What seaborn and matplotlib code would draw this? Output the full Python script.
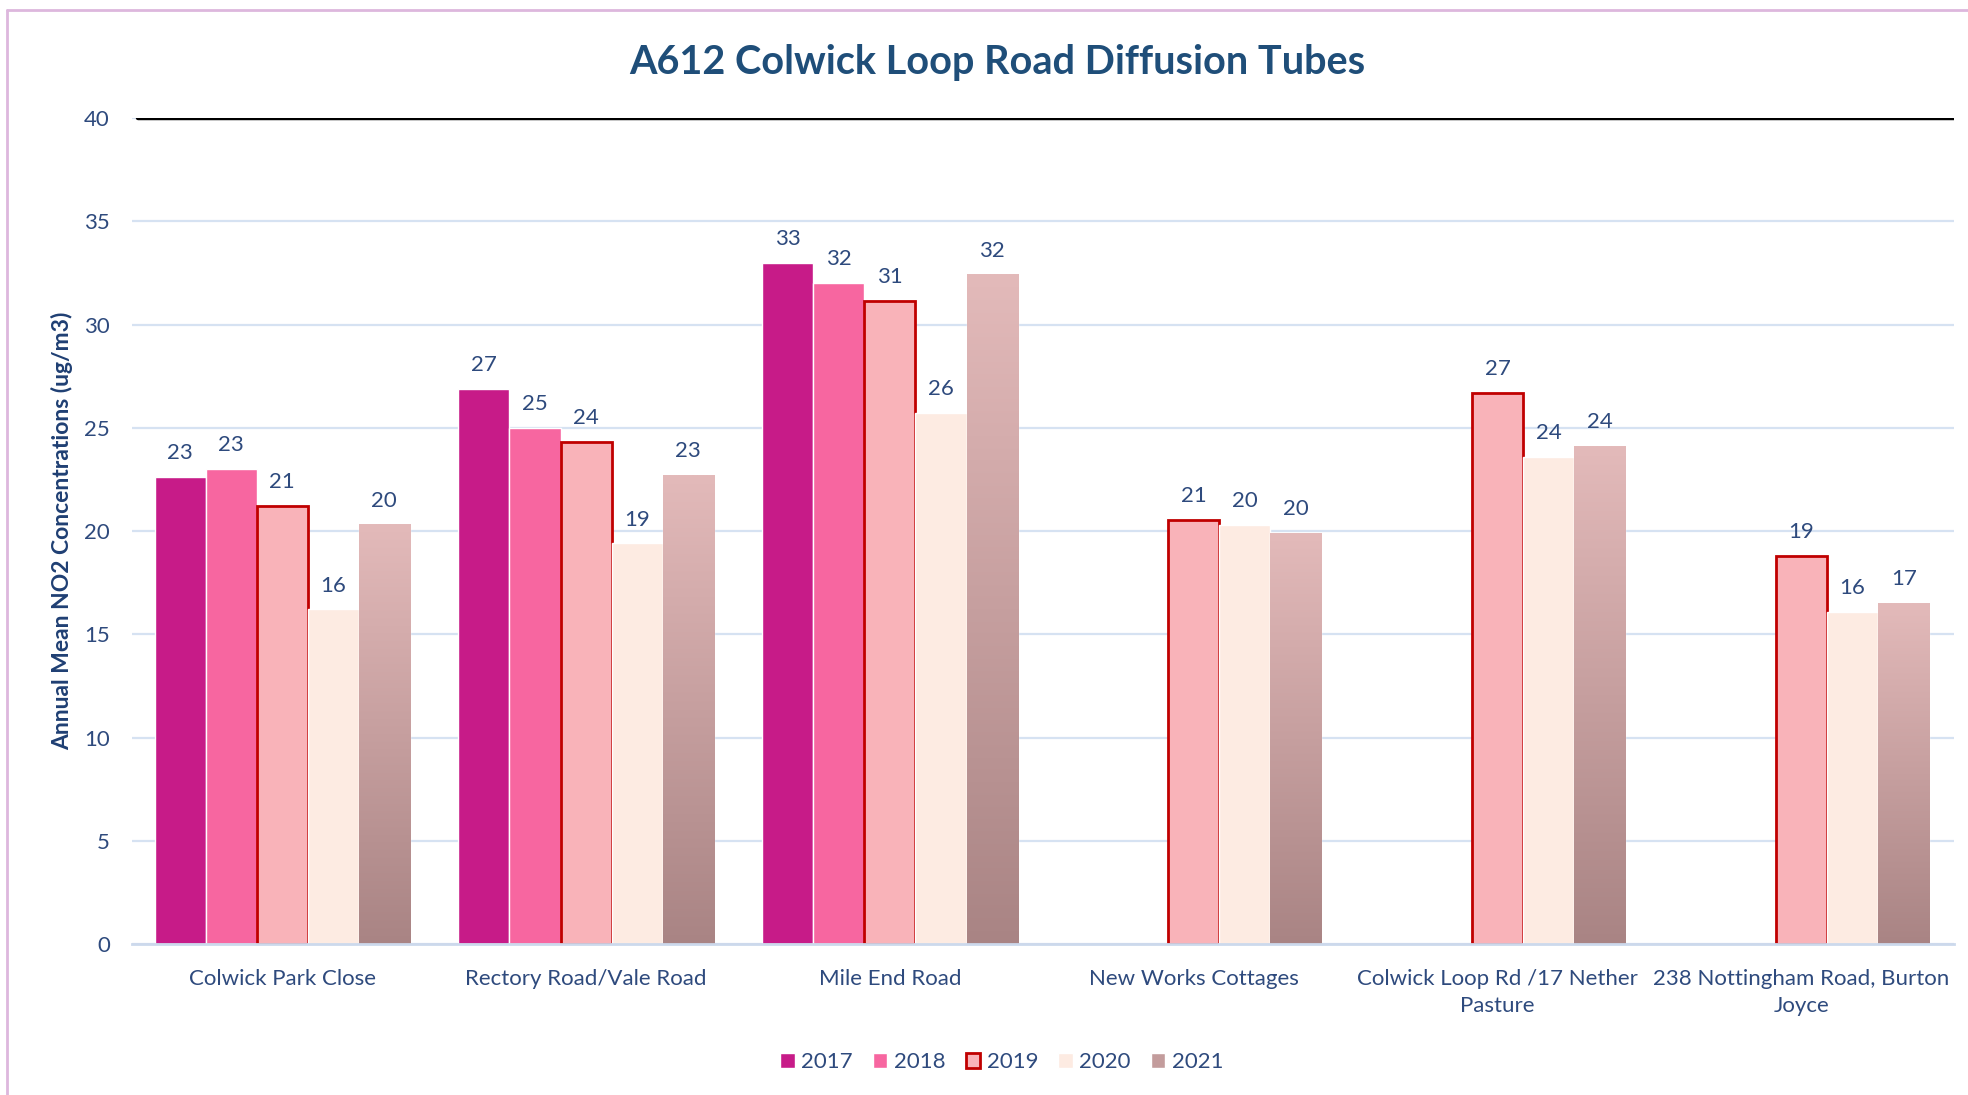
import math
import numpy as np
import pandas as pd
import seaborn as sns
import matplotlib.pyplot as plt
from matplotlib.colors import LinearSegmentedColormap
from matplotlib.lines import Line2D
from matplotlib.patches import Patch

sns.set_style('white')
plt.rcParams['font.family'] = ['Lato', 'DejaVu Sans']

sites = ['Colwick Park Close', 'Rectory Road/Vale Road', 'Mile End Road',
         'New Works Cottages', 'Colwick Loop Rd /17 Nether Pasture',
         '238 Nottingham Road, Burton Joyce']
site_labels = ['Colwick Park Close', 'Rectory Road/Vale Road', 'Mile End Road',
               'New Works Cottages', 'Colwick Loop Rd /17 Nether\nPasture',
               '238 Nottingham Road, Burton\nJoyce']
years = ['2017', '2018', '2019', '2020', '2021']
nan = np.nan
v2017 = [22.6, 26.9, 33.0, nan, nan, nan]
v2018 = [23.0, 25.0, 32.0, nan, nan, nan]
v2019 = [21.2, 24.3, 31.15, 20.55, 26.7, 18.8]
v2020 = [16.2, 19.4, 25.7, 20.3, 23.6, 16.1]
v2021 = [20.3, 22.7, 32.4, 19.9, 24.1, 16.5]
objective = 40

colors = ['#C71B88', '#F766A0', '#F9B3B9', '#FDEBE2', '#D9B0B0']
grad_top, grad_bottom = '#E3BABA', '#A98484'
text_col = '#2E4A7D'

rows = []
for y, vals in zip(years, [v2017, v2018, v2019, v2020, v2021]):
    for s, v in zip(sites, vals):
        rows.append({'site': s, 'year': y, 'value': v})
df = pd.DataFrame(rows)

fig = plt.figure(figsize=(19.68, 10.95), dpi=100)
ax = fig.add_axes([0.0671, 0.1379, 0.926, 0.7543])

sns.barplot(data=df, x='site', y='value', hue='year', order=sites,
            hue_order=years, palette=colors, saturation=1, width=0.84,
            gap=0, errorbar=None, legend=False, ax=ax)

# 2019 bars with red outline
for p in ax.containers[2]:
    p.set_edgecolor('#C00000')
    p.set_linewidth(2)

# gradient fill for 2021
cmap = LinearSegmentedColormap.from_list('g', [grad_bottom, grad_top])
grad = np.linspace(0, 1, 256).reshape(-1, 1)
for p in ax.containers[4]:
    x0, w, h = p.get_x(), p.get_width(), p.get_height()
    if np.isnan(h):
        continue
    p.set_facecolor('none')
    ax.imshow(grad, extent=[x0, x0 + w, 0, h], origin='lower', cmap=cmap,
              aspect='auto', zorder=p.get_zorder())

for c in ax.containers:
    labels = ['' if np.isnan(v) else str(int(math.floor(v + 0.5)))
              for v in c.datavalues]
    ax.bar_label(c, labels=labels, padding=10, fontsize=16, color=text_col)

ax.axhline(objective, xmin=0.003, xmax=1, color='black', lw=3.2, zorder=5)

ax.set_xlim(-0.494, 5.503)
ax.set_ylim(0, 40)
ax.set_yticks(range(0, 41, 5))
ax.yaxis.grid(True, color='#D6E2F2', lw=1.6)
ax.set_axisbelow(True)
for s in ['top', 'right', 'left']:
    ax.spines[s].set_visible(False)
ax.spines['bottom'].set_color('#CCD9EC')
ax.spines['bottom'].set_linewidth(2)
ax.set_xticks(range(len(sites)))
ax.set_xticklabels(site_labels, linespacing=1.45)
ax.tick_params(axis='y', length=0, pad=16, labelsize=16, labelcolor=text_col)
ax.tick_params(axis='x', length=0, pad=18, labelsize=16, labelcolor=text_col)
ax.set_xlabel('')
ax.set_ylabel('Annual Mean NO2 Concentrations (ug/m3)', fontsize=16.5,
              fontweight='bold', color='#1F3F73', labelpad=8)

fig.text(0.507, 0.943, 'A612 Colwick Loop Road Diffusion Tubes', ha='center',
         va='center', fontsize=28.5, fontweight='bold', color='#1F4E79')

handles = [Patch(facecolor=colors[0]), Patch(facecolor=colors[1]),
           Patch(facecolor=colors[2], edgecolor='#C00000', lw=2),
           Patch(facecolor=colors[3]), Patch(facecolor='#C39C9C')]
fig.legend(handles, years, loc='center', bbox_to_anchor=(0.509, 0.030),
           ncol=5, frameon=False, fontsize=16, labelcolor=text_col,
           handlelength=0.65, handleheight=0.65, handletextpad=0.3,
           columnspacing=0.9)

# chart border (left and top)
fig.add_artist(Line2D([0.0036, 0.0036], [0, 0.9909], transform=fig.transFigure,
                      color='#DDB7DD', lw=2))
fig.add_artist(Line2D([0.0036, 1], [0.9909, 0.9909], transform=fig.transFigure,
                      color='#DDB7DD', lw=2))

fig.savefig('out.png', dpi=100)
